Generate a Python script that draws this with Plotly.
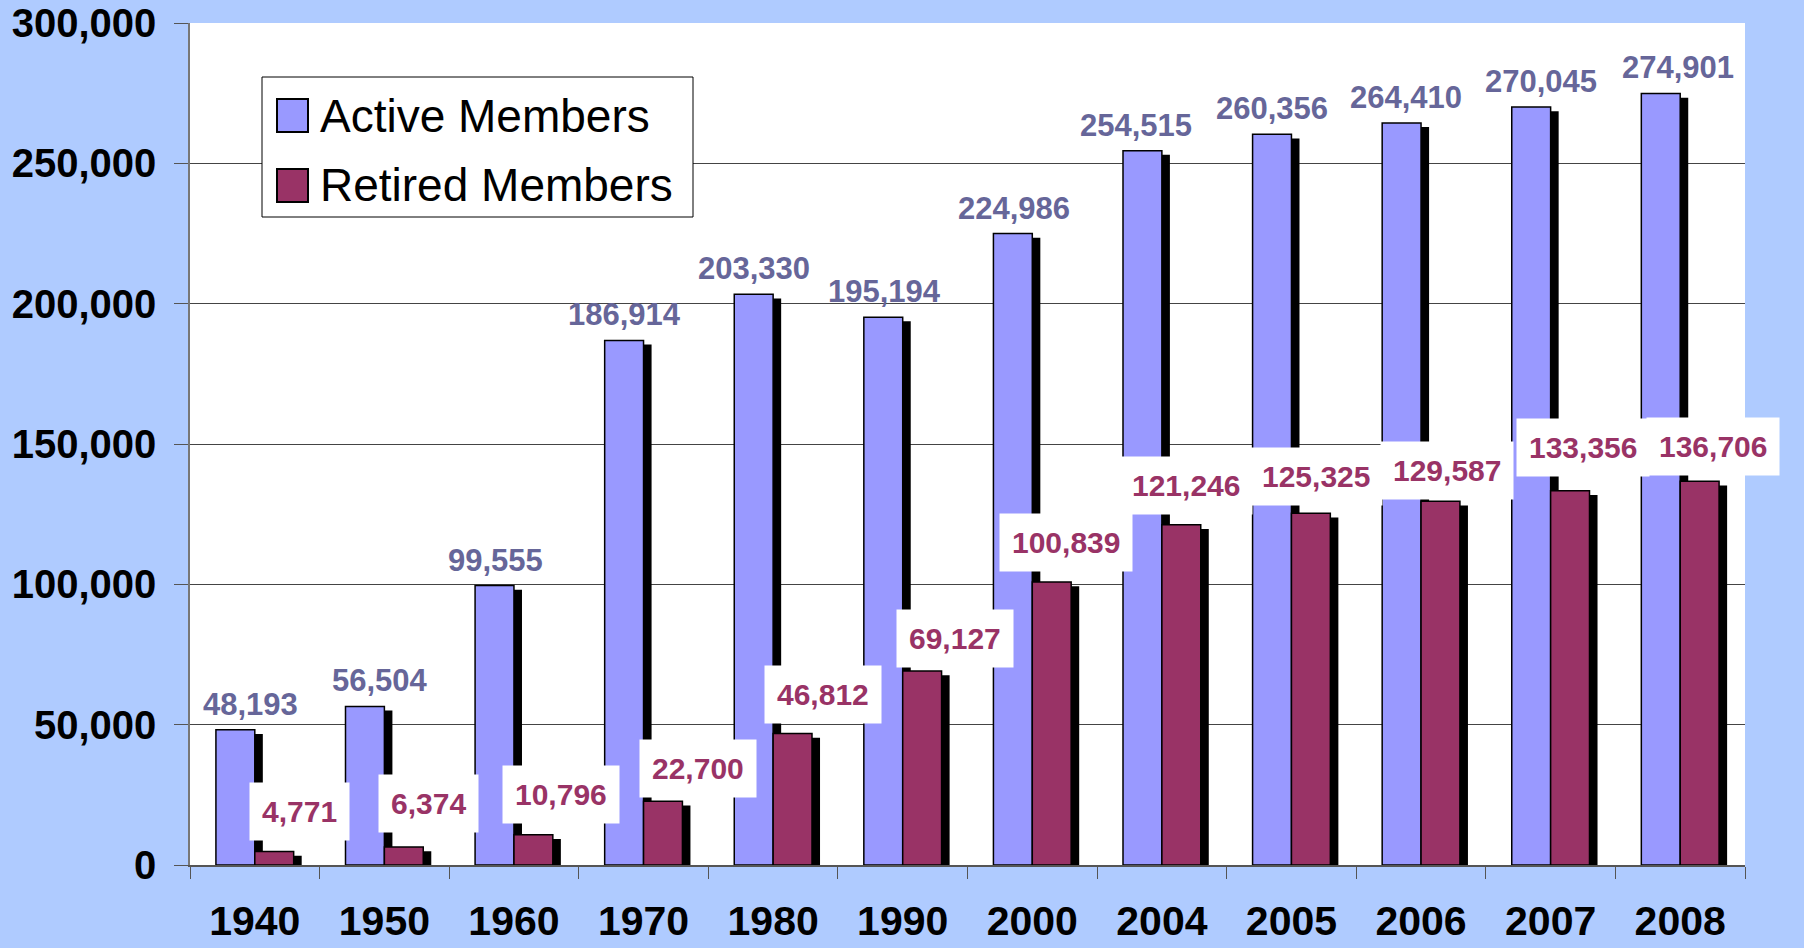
import plotly.graph_objects as go

years = ["1940", "1950", "1960", "1970", "1980", "1990", "2000", "2004", "2005", "2006", "2007", "2008"]
active = [48193, 56504, 99555, 186914, 203330, 195194, 224986, 254515, 260356, 264410, 270045, 274901]
retired = [4771, 6374, 10796, 22700, 46812, 69127, 100839, 121246, 125325, 129587, 133356, 136706]

# label nudges (pixels) - styling only
active_dx = [15, 15, 1, 0, 0, 1, 1, -6, 0, 4, 10, 17]
retired_dx = [25, 25, 28, 35, 30, 33, 14, 5, 5, 7, 13, 13]
retired_dy = [40, 44, 40, 33, 39, 32, 39, 39, 37, 31, 43, 35]

ACTIVE_C = "#9999FF"
RETIRED_C = "#993366"
ACTIVE_TXT = "#666699"
BG = "#AFCBFF"
FONT = "Liberation Sans, Arial, sans-serif"

W = 0.3
SHX = 0.062
SHY = 1500

fig = go.Figure()
fig.add_bar(x=years, y=[v - SHY for v in active], offset=-W + SHX, width=W,
            marker=dict(color="black", line=dict(width=0)), showlegend=False, hoverinfo="skip")
fig.add_bar(x=years, y=active, offset=-W, width=W, name="Active Members",
            marker=dict(color=ACTIVE_C, line=dict(color="black", width=1.5)), showlegend=False)
fig.add_bar(x=years, y=[v - SHY for v in retired], offset=SHX, width=W,
            marker=dict(color="black", line=dict(width=0)), showlegend=False, hoverinfo="skip")
fig.add_bar(x=years, y=retired, offset=0, width=W, name="Retired Members",
            marker=dict(color=RETIRED_C, line=dict(color="black", width=1.5)), showlegend=False)

ann = []
for i, (a, r) in enumerate(zip(active, retired)):
    ann.append(dict(x=i - W / 2, y=a, xref="x", yref="y", text=f"{a:,}",
                    showarrow=False, yanchor="bottom", xshift=active_dx[i], yshift=6,
                    font=dict(family=FONT, size=31, color=ACTIVE_TXT, weight="bold")))
    ann.append(dict(x=i + W / 2, y=r, xref="x", yref="y", text=f"{r:,}",
                    showarrow=False, yanchor="middle", xshift=retired_dx[i], yshift=retired_dy[i],
                    bgcolor="white", borderpad=12,
                    font=dict(family=FONT, size=30, color=RETIRED_C, weight="bold")))

# legend (manual, to match large swatches)
L0, L1 = 190, 1745
T0, T1 = 23, 865
def px(xp):
    return (xp - L0) / (L1 - L0)
def py(yp):
    return 1 - (yp - T0) / (T1 - T0)

shapes = [
    dict(type="rect", xref="paper", yref="paper", x0=px(262), x1=px(693), y0=py(217), y1=py(77),
         fillcolor="white", line=dict(color="black", width=1), layer="above"),
    dict(type="rect", xref="paper", yref="paper", x0=px(277), x1=px(308), y0=py(132), y1=py(99),
         fillcolor=ACTIVE_C, line=dict(color="black", width=2), layer="above"),
    dict(type="rect", xref="paper", yref="paper", x0=px(277), x1=px(308), y0=py(202), y1=py(169),
         fillcolor=RETIRED_C, line=dict(color="black", width=2), layer="above"),
]
ann.append(dict(x=px(318), y=py(116), xref="paper", yref="paper", text="Active Members",
                showarrow=False, xanchor="left", yanchor="middle",
                font=dict(family=FONT, size=46, color="black")))
ann.append(dict(x=px(318), y=py(185), xref="paper", yref="paper", text="Retired Members",
                showarrow=False, xanchor="left", yanchor="middle",
                font=dict(family=FONT, size=46, color="black")))

fig.update_layout(
    width=1804, height=948,
    barmode="overlay",
    paper_bgcolor=BG, plot_bgcolor="white",
    margin=dict(l=L0, r=1804 - L1, t=T0, b=948 - T1, autoexpand=False),
    annotations=ann, shapes=shapes,
    showlegend=False,
    font=dict(family=FONT),
)
fig.update_xaxes(type="category", tickson="boundaries", ticks="outside", ticklen=12,
                 tickcolor="#555555", showline=True, linecolor="#555555", linewidth=1.5,
                 showgrid=False, tickfont=dict(family=FONT, size=41, color="black", weight="bold"),
                 ticklabelstandoff=19, automargin=False,
                 range=[-0.5, len(years) - 0.5])
fig.update_yaxes(range=[0, 300000], tickvals=[0, 50000, 100000, 150000, 200000, 250000, 300000],
                 tickformat=",", ticks="outside", ticklen=14, tickcolor="#555555",
                 showline=True, linecolor="#777777", linewidth=1.5,
                 showgrid=True, gridcolor="#444444", gridwidth=1, zeroline=False,
                 tickfont=dict(family=FONT, size=40, color="black", weight="bold"),
                 ticklabelstandoff=10, automargin=False)

fig.write_html("out.html", config={"displayModeBar": False},
               post_script="document.body.style.margin='0';document.body.style.background='" + BG + "';")
